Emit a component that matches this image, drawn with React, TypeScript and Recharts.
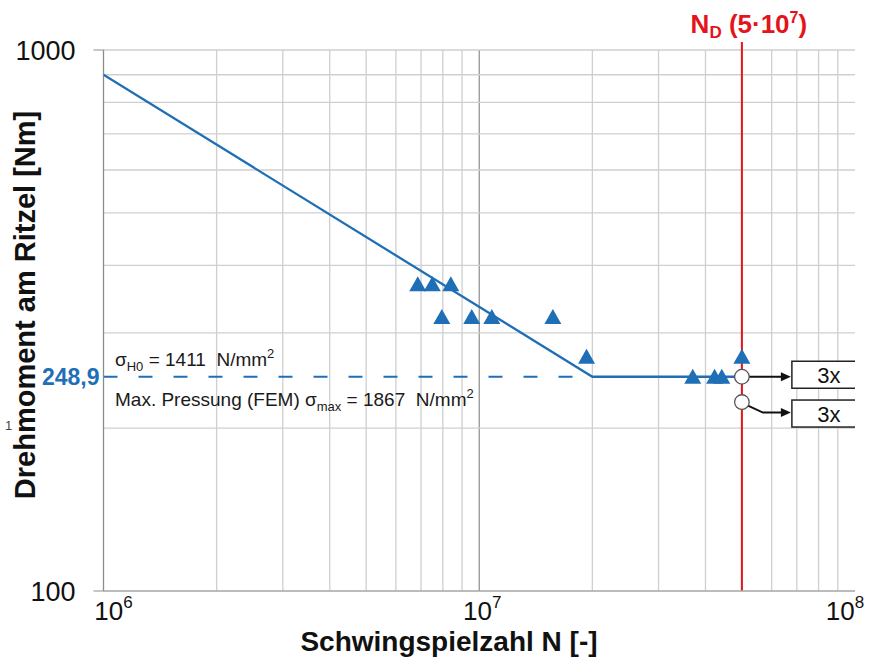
import React from 'react';
import { ScatterChart, Scatter, XAxis, YAxis, ReferenceLine } from 'recharts';

const FONT = 'Arial, "Liberation Sans", sans-serif';
const BLUE = '#1f6fb6';
const RED = '#e3141b';

// S-N line: knee at N = 2e7, endurance torque 248,9 Nm
const curveN = [1e6, 2e7, 5e7];
const curveT = [900, 248.9, 248.9];
const enduranceT = 248.9;
const kneeN = 2e7;
const limitN = 5e7;

// test results (triangles)
const testN = [6.86e6, 7.5e6, 8.4e6, 7.95e6, 9.55e6, 1.08e7, 1.57e7, 1.93e7, 3.7e7, 4.23e7, 4.42e7, 5e7];
const testT = [369, 369, 369, 321, 321, 321, 321, 271, 248.9, 248.9, 248.9, 271];

// run-outs (circles), each stands for 3 specimens
const runoutN = [5e7, 5e7];
const runoutT = [248.9, 223.5];
const runoutLabels = ['3x', '3x'];

// grid and ticks
const xMinor = [2e6, 3e6, 4e6, 5e6, 6e6, 7e6, 8e6, 9e6, 2e7, 3e7, 4e7, 5e7, 6e7, 7e7, 8e7, 9e7];
const xMajor = [1e7];
const xDecades = [1e6, 1e7, 1e8];
const yGrid = [200, 300, 400, 500, 600, 700, 800, 900, 1000];
const yTicks = [100, 248.9, 1000];

const curveData = curveN.map((x, i) => ({ x, y: curveT[i] }));
const testData = testN.map((x, i) => ({ x, y: testT[i] }));
const runoutData = runoutN.map((x, i) => ({ x, y: runoutT[i], label: runoutLabels[i] }));

const Triangle = (props: any) => {
  const { cx, cy } = props;
  return <polygon points={`${cx},${cy - 8} ${cx + 8.5},${cy + 7} ${cx - 8.5},${cy + 7}`} fill={BLUE} />;
};

const Runout = (props: any) => {
  const { cx, cy, payload } = props;
  const bent = payload.y < enduranceT;
  const arrowY = bent ? cy + 10.5 : cy;
  const boxY = bent ? cy + 11.5 : cy - 2;
  const bx = cx + 50;
  const path = bent
    ? `M${cx + 5},${cy + 3} L${cx + 21},${arrowY} L${bx - 8},${arrowY}`
    : `M${cx + 7},${cy} L${bx - 8},${cy}`;
  return (
    <g>
      <path d={path} fill="none" stroke="#111" strokeWidth={2} />
      <polygon points={`${bx - 11},${arrowY - 4.5} ${bx - 1},${arrowY} ${bx - 11},${arrowY + 4.5}`} fill="#111" />
      <rect x={bx} y={boxY - 13.5} width={73} height={27} fill="#fff" stroke="#222" strokeWidth={1.5} />
      <text x={bx + 37} y={boxY + 8} textAnchor="middle" fontFamily={FONT} fontSize={22} fill="#111">
        {payload.label}
      </text>
      <circle cx={cx} cy={cy} r={7.3} fill="#fff" stroke="#555" strokeWidth={1.3} />
    </g>
  );
};

const YTick = (props: any) => {
  const { x, y, payload } = props;
  const v = payload.value;
  if (v === enduranceT) {
    return (
      <text x={x + 24} y={y} dy="0.36em" textAnchor="end" fontFamily={FONT} fontWeight="bold" fontSize={23} fill={BLUE}>
        {String(v).replace('.', ',')}
      </text>
    );
  }
  return (
    <g>
      <line x1={x + 18} x2={x + 28.5} y1={y} y2={y} stroke="#a0a0a0" strokeWidth={1.2} />
      <text x={x} y={y} dy="0.36em" textAnchor="end" fontFamily={FONT} fontSize={27} fill="#111">
        {v}
      </text>
    </g>
  );
};

const XTick = (props: any) => {
  const { x, y, payload, index } = props;
  const exp = Math.round(Math.log10(payload.value));
  const shift = index === 0 ? 10 : index === xDecades.length - 1 ? -10 : 3;
  return (
    <text x={x + shift} y={y + 29} textAnchor="middle" fontFamily={FONT} fontSize={26} fill="#111">
      10
      <tspan dy={-12} fontSize={17}>{exp}</tspan>
    </text>
  );
};

const RedLine = (props: any) => {
  const { x1, y1, x2, y2 } = props;
  return <line x1={x1} x2={x2} y1={Math.min(y1, y2) - 8} y2={Math.max(y1, y2)} stroke={RED} strokeWidth={2} />;
};

const RedLabel = (props: any) => {
  const vb = props.viewBox || {};
  return (
    <text x={vb.x + 7} y={vb.y - 17} textAnchor="middle" fontFamily={FONT} fontWeight="bold" fontSize={26} fill={RED}>
      N<tspan dy={5} fontSize={17}>D</tspan>
      <tspan dy={-5}> (5·10</tspan>
      <tspan dy={-10} fontSize={16}>7</tspan>
      <tspan dy={10}>)</tspan>
    </text>
  );
};

export default function App() {
  return (
    <div style={{ position: 'absolute', left: 0, top: 0, width: 873, height: 657, background: '#fff' }}>
      <ScatterChart width={873} height={657} margin={{ top: 50, right: 18, bottom: 0, left: 0 }}>
        <XAxis
          type="number"
          dataKey="x"
          scale="log"
          domain={[1e6, 1e8]}
          ticks={xDecades}
          allowDataOverflow
          height={66}
          tickLine={false}
          tickSize={0}
          tickMargin={0}
          axisLine={{ stroke: '#a6a6a6', strokeWidth: 1.3 }}
          tick={<XTick />}
          interval={0}
        />
        <YAxis
          type="number"
          dataKey="y"
          scale="log"
          domain={[100, 1000]}
          ticks={yTicks}
          allowDataOverflow
          width={103.5}
          tickLine={false}
          tickSize={10}
          tickMargin={18}
          axisLine={{ stroke: '#8c8c8c', strokeWidth: 1.3 }}
          tick={<YTick />}
          interval={0}
        />
        {xMinor.map((v) => (
          <ReferenceLine key={'vx' + v} x={v} stroke="#cfcfcf" strokeWidth={1.3} />
        ))}
        {xMajor.map((v) => (
          <ReferenceLine key={'mx' + v} x={v} stroke="#959595" strokeWidth={1.3} />
        ))}
        {yGrid.map((v) => (
          <ReferenceLine key={'gy' + v} y={v} stroke="#cfcfcf" strokeWidth={1.3} />
        ))}
        <ReferenceLine x={limitN} shape={<RedLine />} label={<RedLabel />} />
        <ReferenceLine
          segment={[{ x: 1e6, y: enduranceT }, { x: kneeN, y: enduranceT }]}
          stroke={BLUE}
          strokeWidth={2.2}
          strokeDasharray="14 21"
        />
        <Scatter
          data={curveData}
          line={{ stroke: BLUE, strokeWidth: 2.3 }}
          shape={() => <g />}
          isAnimationActive={false}
        />
        <Scatter data={testData} shape={<Triangle />} isAnimationActive={false} />
        <Scatter data={runoutData} shape={<Runout />} isAnimationActive={false} />
      </ScatterChart>
      <svg width={873} height={657} style={{ position: 'absolute', left: 0, top: 0, pointerEvents: 'none' }}>
        <text
          x={35}
          y={305}
          transform="rotate(-90 35 305)"
          textAnchor="middle"
          fontFamily={FONT}
          fontWeight="bold"
          fontSize={29}
          fill="#111"
        >
          Drehmoment am Ritzel [Nm]
        </text>
        <text x={449} y={651} textAnchor="middle" fontFamily={FONT} fontWeight="bold" fontSize={28} fill="#111">
          Schwingspielzahl N [-]
        </text>
        <text x={5} y={430} fontFamily={FONT} fontSize={13} fill="#444">
          1
        </text>
        <text x={115} y={366} fontFamily={FONT} fontSize={19} fill="#1a1a1a" style={{ whiteSpace: 'pre' }}>
          σ<tspan dy={5} fontSize={13}>H0</tspan>
          <tspan dy={-5}>{' = 1411  N/mm'}</tspan>
          <tspan dy={-8} fontSize={13}>2</tspan>
        </text>
        <text x={115} y={406} fontFamily={FONT} fontSize={19} fill="#1a1a1a" style={{ whiteSpace: 'pre' }}>
          {'Max. Pressung (FEM) σ'}
          <tspan dy={5} fontSize={13}>max</tspan>
          <tspan dy={-5}>{' = 1867  N/mm'}</tspan>
          <tspan dy={-8} fontSize={13}>2</tspan>
        </text>
      </svg>
    </div>
  );
}
